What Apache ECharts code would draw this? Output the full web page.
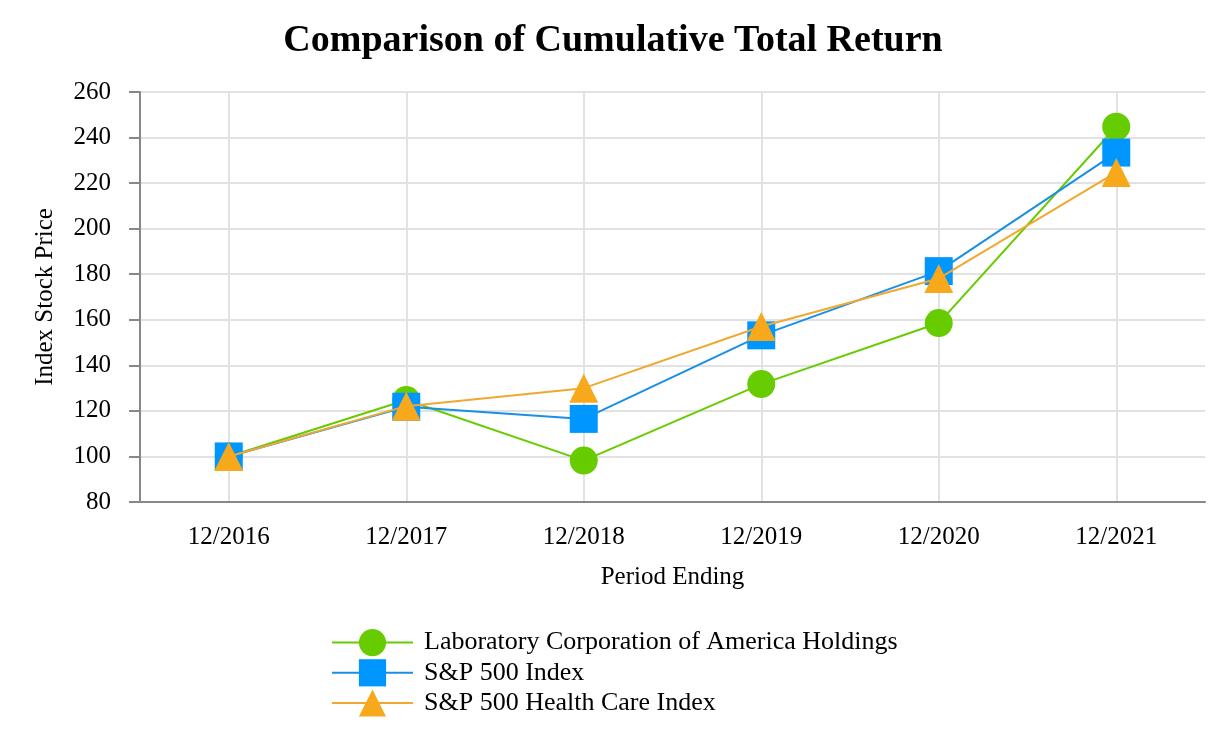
<!DOCTYPE html>
<html>
<head>
<meta charset="utf-8">
<script src="https://cdn.jsdelivr.net/npm/echarts@6/dist/echarts.min.js"></script>
<style>html,body{margin:0;padding:0;background:#fff}#c{width:1226px;height:744px}</style>
</head>
<body>
<div id="c"></div>
<script>
const categories = ['12/2016', '12/2017', '12/2018', '12/2019', '12/2020', '12/2021'];
const labcorp = [100, 124.76, 98.17, 131.77, 158.56, 244.75];
const sp500 = [100, 121.83, 116.49, 153.17, 181.35, 233.41];
const spHealth = [100, 122.08, 129.97, 157.04, 178.16, 224.70];
const yTicks = { min: 80, max: 260, interval: 20 };

const FONT = '"Liberation Serif", "Times New Roman", serif';
const chart = echarts.init(document.getElementById('c'));
chart.setOption({
  animation: false,
  backgroundColor: '#fff',
  title: {
    text: 'Comparison of Cumulative Total Return',
    left: 'center', top: 17,
    textStyle: { fontFamily: FONT, fontSize: 38, fontWeight: 'bold', color: '#000' }
  },
  grid: { left: 140, right: 21, top: 92, bottom: 242 },
  legend: {
    orient: 'vertical', left: 331, top: 629, padding: 0,
    itemWidth: 81, itemHeight: 34, itemGap: 3,
    textStyle: { fontFamily: FONT, fontSize: 26, color: '#000', padding: [0, 0, 0, 6] },
    data: ['Laboratory Corporation of America Holdings', 'S&P 500 Index', 'S&P 500 Health Care Index']
  },
  xAxis: {
    type: 'category', data: categories, boundaryGap: true,
    name: 'Period Ending', nameLocation: 'middle', nameGap: 63,
    nameTextStyle: { fontFamily: FONT, fontSize: 25, color: '#000' },
    axisLine: { lineStyle: { color: '#888', width: 2 } },
    axisTick: { alignWithLabel: true, length: 10, lineStyle: { color: '#888', width: 2 } },
    axisLabel: { fontFamily: FONT, fontSize: 25, color: '#000', margin: 23 },
    splitLine: { show: true, alignWithLabel: true, interval: 0, lineStyle: { color: '#e2e2e2', width: 2 } }
  },
  yAxis: {
    type: 'value', min: yTicks.min, max: yTicks.max, interval: yTicks.interval,
    name: 'Index Stock Price', nameLocation: 'middle', nameGap: 82, nameRotate: 90,
    nameTextStyle: { fontFamily: FONT, fontSize: 25, color: '#000' },
    axisLine: { show: true, lineStyle: { color: '#888', width: 2 } },
    axisTick: { show: true, length: 11, lineStyle: { color: '#888', width: 2 } },
    axisLabel: { fontFamily: FONT, fontSize: 25, color: '#000', margin: 29 },
    splitLine: { show: true, lineStyle: { color: '#e2e2e2', width: 2 } }
  },
  series: [
    {
      name: 'Laboratory Corporation of America Holdings', type: 'line', data: labcorp,
      symbol: 'circle', symbolSize: 28, color: '#66cc00',
      lineStyle: { width: 2, color: '#66cc00' }, itemStyle: { color: '#66cc00' }, z: 2
    },
    {
      name: 'S&P 500 Index', type: 'line', data: sp500,
      symbol: 'rect', symbolSize: 28, color: '#0096ff',
      lineStyle: { width: 2, color: '#1a8fe6' }, itemStyle: { color: '#0096ff' }, z: 3
    },
    {
      name: 'S&P 500 Health Care Index', type: 'line', data: spHealth,
      symbol: 'triangle', symbolSize: 29, color: '#f7a81b',
      lineStyle: { width: 2, color: '#f0a830' }, itemStyle: { color: '#f7a81b' }, z: 4
    }
  ]
});
</script>
</body>
</html>
